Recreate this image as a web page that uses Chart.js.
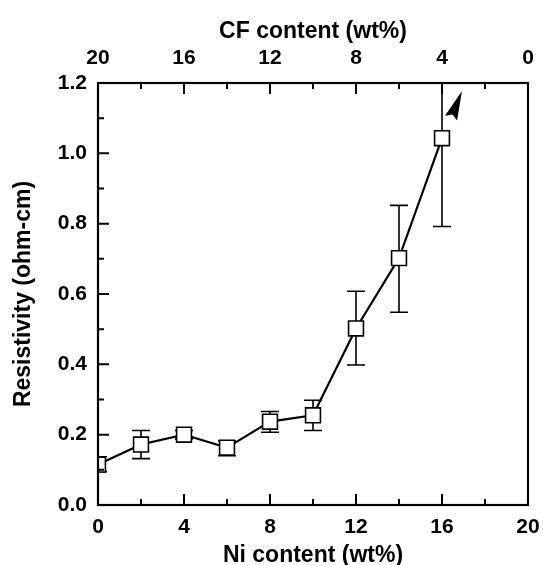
<!DOCTYPE html>
<html>
<head>
<meta charset="utf-8">
<script src="https://cdn.jsdelivr.net/npm/chart.js@4"></script>
<style>
html,body{margin:0;padding:0;background:#fff;}
#wrap{width:543px;height:565px;position:relative;}
</style>
</head>
<body>
<div id="wrap"><canvas id="c" width="543" height="565"></canvas></div>
<script>
// Data
const niContent   = [0, 2, 4, 6, 8, 10, 12, 14, 16];
const resistivity = [0.115, 0.172, 0.200, 0.163, 0.237, 0.255, 0.502, 0.702, 1.043];
const errLow      = [0.095, 0.132, 0.188, 0.140, 0.207, 0.212, 0.398, 0.548, 0.792];
const errHigh     = [0.137, 0.212, 0.212, 0.182, 0.266, 0.298, 0.608, 0.852, 1.200];
const bottomTicks = [0, 4, 8, 12, 16, 20];
const bottomMinor = [2, 6, 10, 14, 18];
const topTickLabels = [20, 16, 12, 8, 4, 0];   // CF content = 20 - Ni content
const yTicks = [0.0, 0.2, 0.4, 0.6, 0.8, 1.0, 1.2];
const yMinor = [0.1, 0.3, 0.5, 0.7, 0.9, 1.1];
const arrowFrom = {x: 16.42, y: 1.100};
const arrowTo   = {x: 16.93, y: 1.177};

const FONT = "'Liberation Sans', Arial, sans-serif";

const decorPlugin = {
  id: 'decor',
  beforeDatasetsDraw(chart) {
    const ctx = chart.ctx, xs = chart.scales.x, ys = chart.scales.y, a = chart.chartArea;
    ctx.save();
    ctx.beginPath();
    ctx.rect(a.left, a.top, a.right - a.left, a.bottom - a.top);
    ctx.clip();
    ctx.strokeStyle = '#000';
    ctx.lineWidth = 1.6;
    const cap = 9;
    for (let i = 0; i < niContent.length; i++) {
      const px = xs.getPixelForValue(niContent[i]);
      const lo = ys.getPixelForValue(errLow[i]);
      const hi = ys.getPixelForValue(errHigh[i]);
      ctx.beginPath();
      ctx.moveTo(px, lo); ctx.lineTo(px, hi);
      ctx.moveTo(px - cap, lo); ctx.lineTo(px + cap, lo);
      ctx.moveTo(px - cap, hi); ctx.lineTo(px + cap, hi);
      ctx.stroke();
    }
    ctx.restore();
  },
  afterDraw(chart) {
    const ctx = chart.ctx, xs = chart.scales.x, ys = chart.scales.y, a = chart.chartArea;
    ctx.save();
    ctx.strokeStyle = '#000';
    ctx.lineWidth = 2;
    // inward tick marks
    const major = 11, minor = 6;
    ctx.beginPath();
    bottomTicks.forEach(v => { const p = xs.getPixelForValue(v);
      ctx.moveTo(p, a.bottom); ctx.lineTo(p, a.bottom - major);
      ctx.moveTo(p, a.top); ctx.lineTo(p, a.top + major); });
    bottomMinor.forEach(v => { const p = xs.getPixelForValue(v);
      ctx.moveTo(p, a.bottom); ctx.lineTo(p, a.bottom - minor);
      ctx.moveTo(p, a.top); ctx.lineTo(p, a.top + minor); });
    yTicks.forEach(v => { const p = ys.getPixelForValue(v);
      ctx.moveTo(a.left, p); ctx.lineTo(a.left + major, p); });
    yMinor.forEach(v => { const p = ys.getPixelForValue(v);
      ctx.moveTo(a.left, p); ctx.lineTo(a.left + minor, p); });
    ctx.stroke();
    // frame
    ctx.lineWidth = 2.2;
    ctx.strokeRect(a.left, a.top, a.right - a.left, a.bottom - a.top);
    // arrow (filled wedge head)
    const x0 = xs.getPixelForValue(arrowFrom.x), y0 = ys.getPixelForValue(arrowFrom.y);
    const x1 = xs.getPixelForValue(arrowTo.x), y1 = ys.getPixelForValue(arrowTo.y);
    const ang = Math.atan2(y1 - y0, x1 - x0);
    const hw = 6.5;
    ctx.fillStyle = '#000';
    ctx.beginPath();
    ctx.moveTo(x1, y1);
    ctx.lineTo(x0 + hw * Math.sin(ang), y0 - hw * Math.cos(ang));
    ctx.lineTo(x0 + 4 * Math.cos(ang), y0 + 4 * Math.sin(ang));
    ctx.lineTo(x0 - hw * Math.sin(ang), y0 + hw * Math.cos(ang));
    ctx.closePath();
    ctx.fill();
    ctx.restore();
  }
};

const tickFont = {family: FONT, size: 21, weight: 'bold'};
const titleFont = {family: FONT, size: 23, weight: 'bold'};

new Chart(document.getElementById('c'), {
  type: 'line',
  data: {
    datasets: [{
      data: niContent.map((x, i) => ({x: x, y: resistivity[i]})),
      borderColor: '#000',
      borderWidth: 2.2,
      pointStyle: 'rect',
      pointRadius: 10.5,
      pointBackgroundColor: '#fff',
      pointBorderColor: '#000',
      pointBorderWidth: 1.6,
      tension: 0,
      clip: 0
    }]
  },
  options: {
    responsive: false,
    animation: false,
    events: [],
    layout: {padding: {left: 0, right: 15, top: 0, bottom: 0}},
    plugins: {legend: {display: false}, tooltip: {enabled: false}},
    scales: {
      x: {
        type: 'linear', position: 'bottom', min: 0, max: 20,
        afterBuildTicks(s) { s.ticks = bottomTicks.map(v => ({value: v})); },
        afterFit(s) { s.height = 60; s.paddingLeft = 0; s.paddingRight = 0; },
        grid: {display: false, drawTicks: false},
        border: {display: false},
        ticks: {color: '#000', font: tickFont, padding: 10, maxRotation: 0},
        title: {display: true, text: 'Ni content (wt%)', color: '#000', font: titleFont, padding: {top: 0, bottom: -4}}
      },
      x2: {
        type: 'linear', position: 'top', min: 0, max: 20, reverse: true,
        afterBuildTicks(s) { s.ticks = topTickLabels.map(v => ({value: v})); },
        afterFit(s) { s.height = 83; s.paddingLeft = 0; s.paddingRight = 0; },
        grid: {display: false, drawTicks: false},
        border: {display: false},
        ticks: {color: '#000', font: tickFont, padding: 12, maxRotation: 0},
        title: {display: true, text: 'CF content (wt%)', color: '#000', font: titleFont, padding: {top: 18, bottom: 0}}
      },
      y: {
        type: 'linear', position: 'left', min: 0, max: 1.2,
        afterBuildTicks(s) { s.ticks = yTicks.map(v => ({value: v})); },
        afterFit(s) { s.width = 98; s.paddingTop = 0; s.paddingBottom = 0; },
        grid: {display: false, drawTicks: false},
        border: {display: false},
        ticks: {color: '#000', font: tickFont, padding: 11, callback: v => v.toFixed(1)},
        title: {display: true, text: 'Resistivity (ohm-cm)', color: '#000', font: titleFont, padding: {top: 10, bottom: 0}}
      }
    }
  },
  plugins: [decorPlugin]
});
</script>
</body>
</html>
